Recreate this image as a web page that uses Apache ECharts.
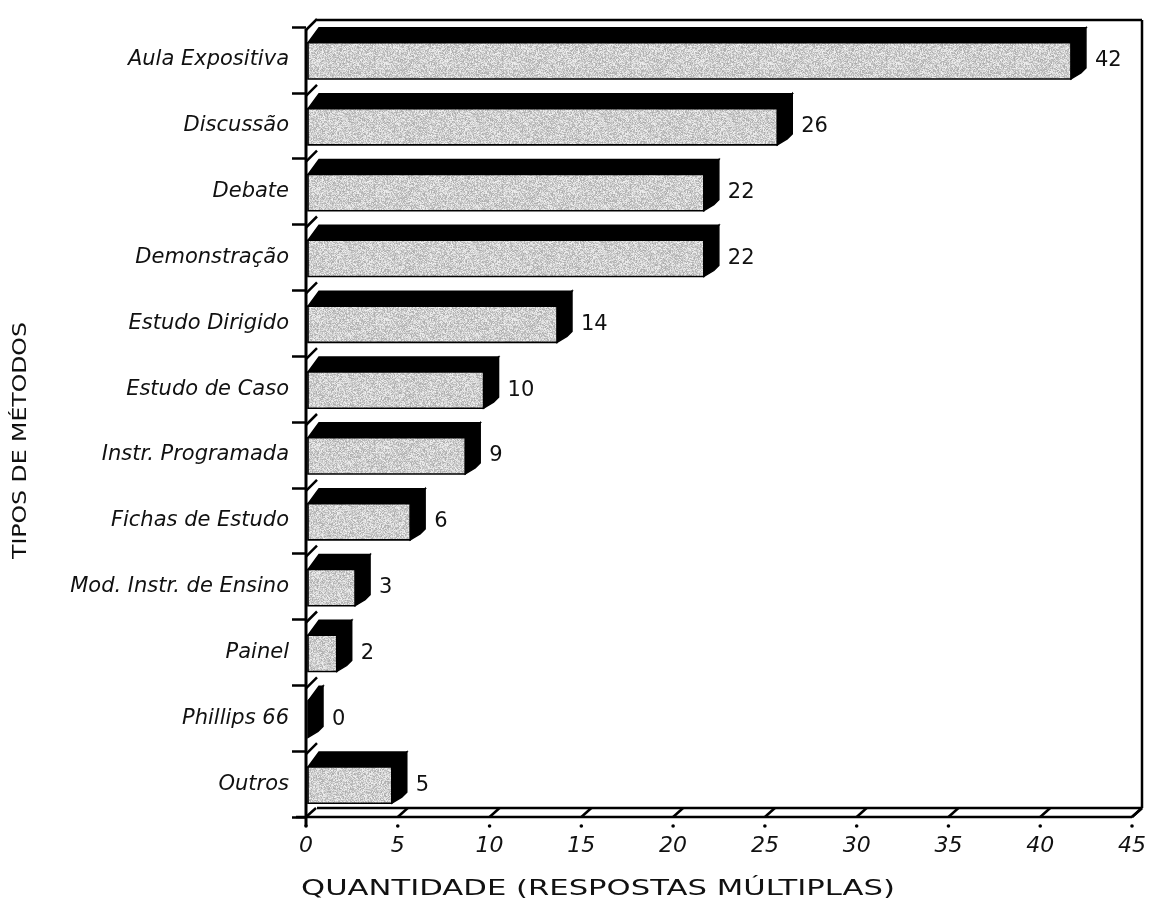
<!DOCTYPE html>
<html>
<head>
<meta charset="utf-8">
<script src="https://cdn.jsdelivr.net/npm/echarts@6/dist/echarts.min.js"></script>
<style>
  html, body { margin: 0; padding: 0; background: #fff; }
  #chart { width: 1151px; height: 911px; }
</style>
</head>
<body>
<div id="chart"></div>
<script>
// Teaching methods named by respondents (multiple answers allowed)
const categories = [
  'Aula Expositiva', 'Discussão', 'Debate', 'Demonstração', 'Estudo Dirigido',
  'Estudo de Caso', 'Instr. Programada', 'Fichas de Estudo', 'Mod. Instr. de Ensino',
  'Painel', 'Phillips 66', 'Outros'
];
const values = [42, 26, 22, 22, 14, 10, 9, 6, 3, 2, 0, 5];
const xTicks = [0, 5, 10, 15, 20, 25, 30, 35, 40, 45];

const xAxisTitle = 'QUANTIDADE (RESPOSTAS MÚLTIPLAS)';
const yAxisTitle = 'TIPOS DE MÉTODOS';

const FONT = "'DejaVu Sans', sans-serif";
const INK = '#111';

// Fine stippled light-grey texture for the front faces of the bars
function stipple() {
  const n = 128;
  const c = document.createElement('canvas');
  c.width = n; c.height = n;
  const ctx = c.getContext('2d');
  const img = ctx.createImageData(n, n);
  for (let y = 0; y < n; y++) {
    for (let x = 0; x < n; x++) {
      let h = (Math.imul(x + 1, 73856093) ^ Math.imul(y + 7, 19349663)) >>> 0;
      h = Math.imul(h ^ (h >>> 13), 1274126177) >>> 0;
      h = (h ^ (h >>> 16)) >>> 0;
      const g = 172 + (h % 70);
      const k = (y * n + x) * 4;
      img.data[k] = img.data[k + 1] = img.data[k + 2] = g;
      img.data[k + 3] = 255;
    }
  }
  ctx.putImageData(img, 0, 0);
  return c;
}
const faceFill = { image: stipple(), repeat: 'repeat' };

// depth of the 3-D effect
const DX = 15, DY = 15;
const WALL = 11;

function renderBar(params, api) {
  const v = api.value(0);
  const cat = api.value(1);
  const p0 = api.coord([0, cat]);
  const p = api.coord([v, cat]);
  const band = api.size([0, 1])[1];
  const h = band * 0.55;
  const top = p[1] - h / 2 + 1;
  const bot = p[1] + h / 2 + 1;
  const x0 = p0[0] + 2;
  const x1 = Math.max(x0, p[0] - 6);
  const black = { fill: '#000', stroke: '#000', lineWidth: 1.5 };
  const children = [
    { type: 'polygon', shape: { points: [[x0, top], [x1, top], [x1 + DX, top - DY], [x0 + WALL, top - DY]] }, style: black },
    { type: 'polygon', shape: { points: [[x1, top], [x1 + DX, top - DY], [x1 + DX, bot - DY + 4], [x1 + DX - 5, bot - DY + 9], [x1, bot]] }, style: black }
  ];
  if (x1 > x0) {
    children.push({ type: 'rect', shape: { x: x0, y: top, width: x1 - x0, height: h },
      style: { fill: faceFill, stroke: '#000', lineWidth: 1.6 } });
  }
  children.push({ type: 'text', style: { x: x1 + DX + 9, y: p[1] + 1, text: String(v),
    font: '21px ' + FONT, fill: INK, verticalAlign: 'middle', align: 'left' } });
  return { type: 'group', children };
}

// Floor ticks: a short slanted stroke into the floor and a dot below each value
function renderFloorTick(params, api) {
  const cs = params.coordSys;
  const fy = cs.y + cs.height;
  const px = api.coord([api.value(0), 0])[0];
  return { type: 'group', children: [
    { type: 'line', shape: { x1: px, y1: fy, x2: px + WALL - 1, y2: fy - WALL + 2 }, style: { stroke: '#000', lineWidth: 2.5 } },
    { type: 'circle', shape: { cx: px, cy: fy + 9, r: 1.8 }, style: { fill: '#000' } }
  ] };
}

// Wall ticks on the category axis: slanted strokes at the band boundaries
function renderWallTick(params, api) {
  const cs = params.coordSys;
  const cat = api.value(1);
  const band = api.size([0, 1])[1];
  const y = api.coord([0, cat])[1] - band / 2;
  return { type: 'line', shape: { x1: cs.x, y1: y + 3, x2: cs.x + WALL, y2: y + 3 - WALL },
    style: { stroke: '#000', lineWidth: 2.5 } };
}

// Box frame: floor, back wall and the left wall
function renderFrame(params, api) {
  const cs = params.coordSys;
  const fy = cs.y + cs.height;
  const xr = cs.x + cs.width;
  const ty = cs.y - 7;
  const s = { stroke: '#000', lineWidth: 2.5, fill: null };
  return { type: 'group', children: [
    { type: 'line', shape: { x1: cs.x - 10, y1: fy, x2: xr, y2: fy }, style: s },
    { type: 'line', shape: { x1: cs.x + WALL, y1: fy - WALL + 2, x2: xr + 10, y2: fy - WALL + 2 }, style: s },
    { type: 'line', shape: { x1: xr, y1: fy, x2: xr + 10, y2: fy - WALL + 2 }, style: s },
    { type: 'line', shape: { x1: xr + 10, y1: fy - WALL + 2, x2: xr + 10, y2: ty }, style: s },
    { type: 'line', shape: { x1: cs.x + WALL, y1: ty, x2: xr + 10, y2: ty }, style: s },
    { type: 'line', shape: { x1: cs.x, y1: cs.y + 2, x2: cs.x, y2: fy + 9 }, style: { stroke: '#000', lineWidth: 3 } }
  ] };
}

const chart = echarts.init(document.getElementById('chart'), null, { renderer: 'canvas' });

chart.setOption({
  backgroundColor: '#fff',
  animation: false,
  grid: { left: 306, right: 19, top: 27, bottom: 94, containLabel: false },
  xAxis: {
    type: 'value', min: 0, max: 45, interval: 5,
    axisLine: { show: false }, axisTick: { show: false }, splitLine: { show: false },
    axisLabel: { margin: 18, fontSize: 22, fontFamily: FONT, fontStyle: 'italic', color: INK }
  },
  yAxis: {
    type: 'category', data: categories, inverse: true,
    axisLine: { show: false },
    axisTick: { show: true, length: 14, lineStyle: { color: '#000', width: 2.5 } },
    axisLabel: { margin: 17, fontSize: 21, fontFamily: FONT, fontStyle: 'italic', color: INK }
  },
  graphic: [
    { type: 'text', left: 301, top: 879, scaleX: 1.46,
      style: { text: xAxisTitle, font: '21px ' + FONT, fill: INK } },
    { type: 'text', x: 12, y: 559, rotation: Math.PI / 2, scaleX: 1.24,
      style: { text: yAxisTitle, font: '19px ' + FONT, fill: INK } }
  ],
  series: [
    { type: 'custom', renderItem: renderFrame, data: [[0, 0]], silent: true, z: 1 },
    { type: 'custom', renderItem: renderWallTick, data: categories.map((c, i) => [0, i]), silent: true, z: 2 },
    { type: 'custom', renderItem: renderFloorTick, data: xTicks.map(t => [t, 0]), silent: true, z: 2 },
    { type: 'custom', renderItem: renderBar, data: values.map((v, i) => [v, i]),
      encode: { x: 0, y: 1 }, z: 3 }
  ]
});
</script>
</body>
</html>
